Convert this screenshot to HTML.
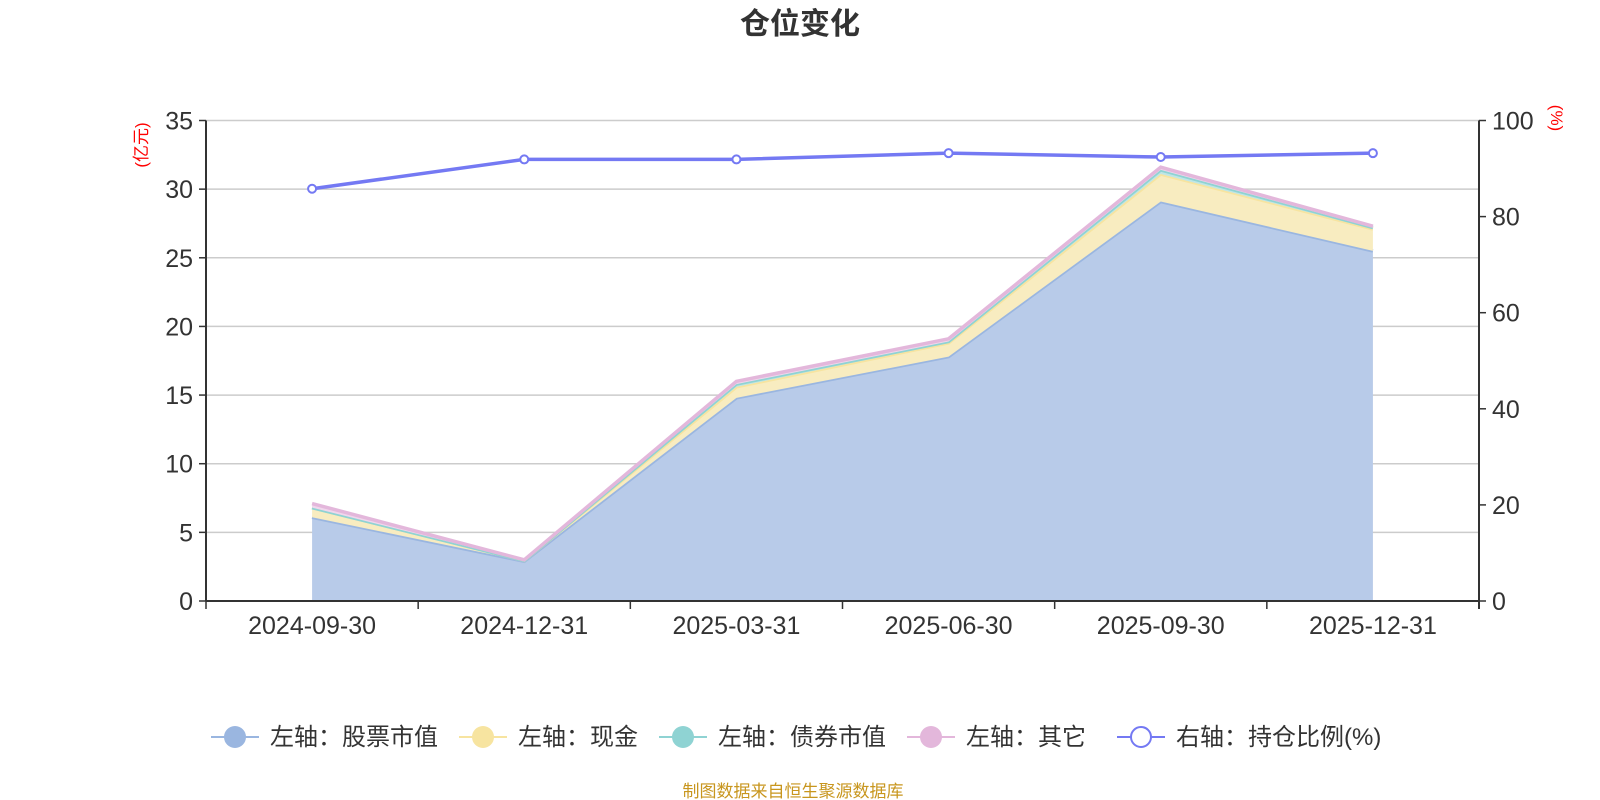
<!DOCTYPE html>
<html><head><meta charset="utf-8"><style>
body{margin:0;background:#fff}
svg{display:block;font-family:"Liberation Sans","Noto Sans CJK SC",sans-serif}
</style></head><body>
<svg id="c" width="1600" height="800">
<text x="800" y="34" text-anchor="middle" font-size="30" font-weight="bold" fill="#333">仓位变化</text>
<text transform="translate(147,145) rotate(-90)" text-anchor="middle" font-size="17" fill="#f00">(亿元)</text>
<text transform="translate(1551,118) rotate(90)" text-anchor="middle" font-size="17" fill="#f00">(%)</text>
<g id="grid"></g><g id="areas"></g><g id="axes"></g><g id="line"></g><g id="legend"></g>
<text x="793" y="797" text-anchor="middle" font-size="17" fill="#c8961e">制图数据来自恒生聚源数据库</text>
</svg>
<script>
const categories=["2024-09-30","2024-12-31","2025-03-31","2025-06-30","2025-09-30","2025-12-31"];
const stock=[6.1,2.9,14.8,17.8,29.1,25.5];
const cash=[0.7,0.05,0.8,1.0,2.0,1.6];
const bond=[0,0,0.2,0.1,0.3,0.1];
const other=[0.3,0.05,0.2,0.2,0.2,0.1];
const ratio=[85.8,91.9,91.9,93.2,92.4,93.2];
const leftTicks=[0,5,10,15,20,25,30,35];
const rightTicks=[0,20,40,60,80,100];
const legendNames=["左轴：股票市值","左轴：现金","左轴：债券市值","左轴：其它","右轴：持仓比例(%)"];

const NS="http://www.w3.org/2000/svg";
const L=206,R=1479,T=120.5,B=601;
const band=(R-L)/categories.length;
const x=i=>L+band*(i+0.5);
const yL=v=>B-(v/35)*(B-T);
const yR=v=>B-(v/100)*(B-T);
function el(p,tag,attrs){const e=document.createElementNS(NS,tag);for(const k in attrs)e.setAttribute(k,attrs[k]);p.appendChild(e);return e;}
const grid=document.getElementById('grid'),axes=document.getElementById('axes'),areas=document.getElementById('areas'),lineG=document.getElementById('line'),leg=document.getElementById('legend');
leftTicks.forEach(v=>{
 if(v>0){const g=el(grid,'line',{x1:L,x2:R,y1:yL(v),y2:yL(v),stroke:'#ccc','stroke-width':1.5});
 
 }
 el(axes,'line',{x1:L-7,x2:L,y1:yL(v),y2:yL(v),stroke:'#333','stroke-width':1.5});
 const tx=el(axes,'text',{x:L-13,y:yL(v)+9,'text-anchor':'end','font-size':25,fill:'#333'});tx.textContent=v;
 
 
});
rightTicks.forEach(v=>{
 el(axes,'line',{x1:R,x2:R+7,y1:yR(v),y2:yR(v),stroke:'#333','stroke-width':1.5});
 const tx=el(axes,'text',{x:R+13,y:yR(v)+9,'font-size':25,fill:'#333'});tx.textContent=v;
 
 
});
const la=el(axes,'line',{x1:L,x2:L,y1:T,y2:B,stroke:'#333','stroke-width':2});


const ra=el(axes,'line',{x1:R,x2:R,y1:T,y2:B+8,stroke:'#333','stroke-width':2});


const xa=el(axes,'line',{x1:L,x2:R,y1:B,y2:B,stroke:'#333','stroke-width':2});


for(let i=0;i<=categories.length;i++)el(axes,'line',{x1:L+band*i,x2:L+band*i,y1:B,y2:B+8,stroke:'#333','stroke-width':1.5});
categories.forEach((c,i)=>{const t=el(axes,'text',{x:x(i),y:634,'text-anchor':'middle','font-size':25,fill:'#333'});t.textContent=c;
 
 });
const series=[stock,cash,bond,other];
const fills=['#b8cbe9','#f8ecc0','#bfe6e6','#f0d6ec'];
const strokes=['#9ab6e0','#f7e4a0','#8fd3d3','#e3b7db'];
const names=['stock-area','cash-area','bond-area','other-area'];
let base=categories.map(()=>0);
series.forEach((s,k)=>{
 const top=s.map((v,i)=>base[i]+v);
 let d='M'+categories.map((c,i)=>x(i)+','+yL(top[i])).join('L');
 for(let i=categories.length-1;i>=0;i--)d+='L'+x(i)+','+yL(base[i]);
 const a=el(areas,'path',{d:d+'Z',fill:fills[k]});
 
 
 const ln=el(areas,'polyline',{points:categories.map((c,i)=>x(i)+','+yL(top[i])).join(' '),fill:'none',stroke:strokes[k],'stroke-width':3.5});
 
 
 base=top;
});
const rl=el(lineG,'polyline',{points:ratio.map((v,i)=>x(i)+','+yR(v)).join(' '),fill:'none',stroke:'#7479f3','stroke-width':3.5});


ratio.forEach((v,i)=>{const p=el(lineG,'circle',{cx:x(i),cy:yR(v),r:4,fill:'#fff',stroke:'#7479f3','stroke-width':2});
 
 });
const lc=[235,483,683,931,1141];
const lcol=['#9ab6e0','#f7e4a0','#8fd3d3','#e3b7db','#7479f3'];
legendNames.forEach((n,k)=>{
 const g=el(leg,'g',{});
 
 
 el(g,'line',{x1:lc[k]-24,x2:lc[k]+24,y1:737,y2:737,stroke:lcol[k],'stroke-width':2});
 if(k<4)el(g,'circle',{cx:lc[k],cy:737,r:11,fill:lcol[k]});
 else el(g,'circle',{cx:lc[k],cy:737,r:10,fill:'#fff',stroke:lcol[k],'stroke-width':2});
 const t=el(g,'text',{x:lc[k]+35,y:745,'font-size':24,fill:'#333'});t.textContent=n;
});
</script>
</body></html>
